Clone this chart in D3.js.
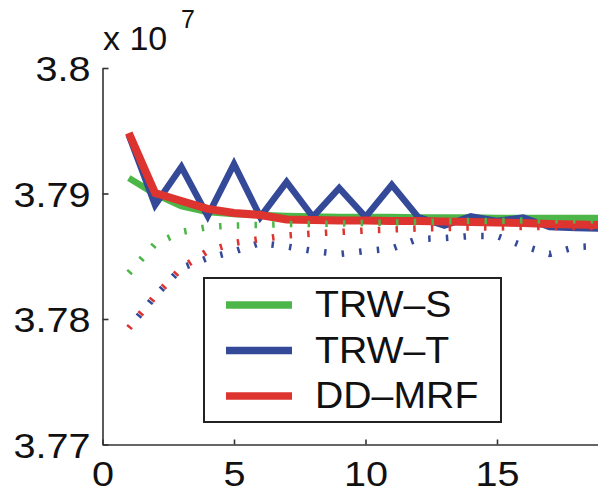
<!DOCTYPE html>
<html>
<head>
<meta charset="utf-8">
<script src="https://cdn.jsdelivr.net/npm/d3@7"></script>
<style>
  html, body { margin: 0; padding: 0; background: #fff; }
  svg { display: block; }
  text { font-family: "Liberation Sans", Arial, Helvetica, sans-serif; fill: #111; }
</style>
</head>
<body>
<svg id="chart" width="598" height="494"></svg>
<script>
// Iterations
const iterations = [1,2,3,4,5,6,7,8,9,10,11,12,13,14,15,16,17,18,19,20];

// Primal energies (x 10^7)
const trwsPrimal = [3.79124,3.78996,3.78900,3.78853,3.78837,3.78829,3.78821,3.78817,3.78813,3.78813,
                    3.78813,3.78809,3.78809,3.78809,3.78805,3.78805,3.78805,3.78805,3.78805,3.78805];
const trwtPrimal = [3.79466,3.78908,3.79211,3.78821,3.79235,3.78813,3.79092,3.78813,3.79044,3.78813,
                    3.79068,3.78813,3.78745,3.78817,3.78781,3.78809,3.78733,3.78725,3.78721,3.78717];
const ddPrimal   = [3.79482,3.79004,3.78940,3.78877,3.78845,3.78829,3.78793,3.78789,3.78785,3.78785,
                    3.78781,3.78781,3.78777,3.78773,3.78769,3.78765,3.78757,3.78753,3.78749,3.78745];

// Dual lower bounds (x 10^7)
const trwsDual = [3.78367,3.78598,3.78693,3.78733,3.78745,3.78749,3.78757,3.78757,3.78761,3.78765,
                  3.78769,3.78773,3.78777,3.78781,3.78781,3.78785,3.78785,3.78785,3.78785,3.78785];
const trwtDual = [3.77928,3.78183,3.78406,3.78486,3.78538,3.78606,3.78578,3.78542,3.78518,3.78542,
                  3.78562,3.78637,3.78645,3.78661,3.78661,3.78582,3.78518,3.78574,3.78582,3.78582];
const ddDual   = [3.77928,3.78183,3.78406,3.78542,3.78606,3.78637,3.78665,3.78681,3.78693,3.78705,
                  3.78713,3.78721,3.78725,3.78729,3.78729,3.78733,3.78733,3.78733,3.78733,3.78733];

// Axis ticks
const xTicks = [0, 5, 10, 15];
const yTicks = [3.77, 3.78, 3.79, 3.8];

// Legend
const legendLabels = ["TRW\u2013S", "TRW\u2013T", "DD\u2013MRF"];
const colors = { trws: "#4cb748", trwt: "#344a98", dd: "#dd3430" };

const svg = d3.select("#chart");

const x = d3.scaleLinear().domain([0, 20]).range([102.5, 628.5]);
const y = d3.scaleLinear().domain([3.77, 3.8]).range([444.5, 68]);

const axisColor = "#333";

// Y axis (ticks pointing inward)
const yAxis = svg.append("g")
  .attr("transform", `translate(${x(0)},0)`)
  .call(d3.axisLeft(y).tickValues(yTicks).tickSizeInner(-6).tickSizeOuter(0).tickPadding(12)
        .tickFormat(d => String(+d.toFixed(2))));
yAxis.select(".domain").attr("stroke", axisColor).attr("stroke-width", 1.6);
yAxis.selectAll(".tick line").attr("stroke", axisColor).attr("stroke-width", 1.6);
yAxis.selectAll(".tick text")
  .attr("font-size", 36).attr("fill", "#111").attr("dy", "0.36em")
  .each(function () {
    const t = d3.select(this);
    const tx = +t.attr("x");
    t.attr("x", 0).attr("transform", `translate(${tx},0) scale(1.1,1)`);
  });

// X axis (ticks pointing inward), drawn to the right edge
const xAxis = svg.append("g")
  .attr("transform", `translate(0,${y(3.77)})`)
  .call(d3.axisBottom(x).tickValues(xTicks).tickSizeInner(-5).tickSizeOuter(0).tickPadding(12));
xAxis.select(".domain").attr("stroke", axisColor).attr("stroke-width", 1.6);
xAxis.selectAll(".tick line").attr("stroke", axisColor).attr("stroke-width", 1.6);
xAxis.selectAll(".tick text")
  .attr("font-size", 36).attr("fill", "#111").attr("dy", null).attr("y", 0)
  .attr("transform", "translate(0,41.8) scale(1.1,1)");

// Exponent label
svg.append("text").attr("x", 103).attr("y", 50).attr("font-size", 34).text("x 10");
svg.append("text").attr("x", 181).attr("y", 28).attr("font-size", 25).text("7");

const line = d3.line().x((d, i) => x(iterations[i])).y(d => y(d));

const plot = svg.append("g");

// Solid primal curves
[[trwsPrimal, colors.trws, 6.5], [trwtPrimal, colors.trwt, 6.5], [ddPrimal, colors.dd, 8]]
  .forEach(([vals, c, w]) => {
    plot.append("path").datum(vals).attr("d", line)
      .attr("fill", "none").attr("stroke", c).attr("stroke-width", w)
      .attr("stroke-linejoin", "miter").attr("stroke-miterlimit", 4);
  });

// Dotted dual curves
[[trwsDual, colors.trws, 0], [trwtDual, colors.trwt, 3], [ddDual, colors.dd, 0]]
  .forEach(([vals, c, off]) => {
    plot.append("path").datum(vals).attr("d", line)
      .attr("fill", "none").attr("stroke", c).attr("stroke-width", 6.5)
      .attr("stroke-dasharray", "2.5 15.2").attr("stroke-dashoffset", off)
      .attr("stroke-linecap", "butt");
  });

// Legend
const legend = svg.append("g");
legend.append("rect").attr("x", 204).attr("y", 278).attr("width", 297).attr("height", 144)
  .attr("fill", "#fff").attr("stroke", "#222").attr("stroke-width", 2);
const legendColors = [colors.trws, colors.trwt, colors.dd];
const legendY = d3.scalePoint().domain(legendLabels).range([305, 396]);
legendLabels.forEach((lab, i) => {
  const ly = legendY(lab);
  legend.append("line").attr("x1", 226).attr("x2", 292).attr("y1", ly).attr("y2", ly)
    .attr("stroke", legendColors[i]).attr("stroke-width", 7.5);
  legend.append("text").attr("x", 0).attr("y", ly + 12.5).attr("font-size", 37)
    .attr("transform", "translate(315,0) scale(1.06,1)").text(lab);
});
</script>
</body>
</html>
